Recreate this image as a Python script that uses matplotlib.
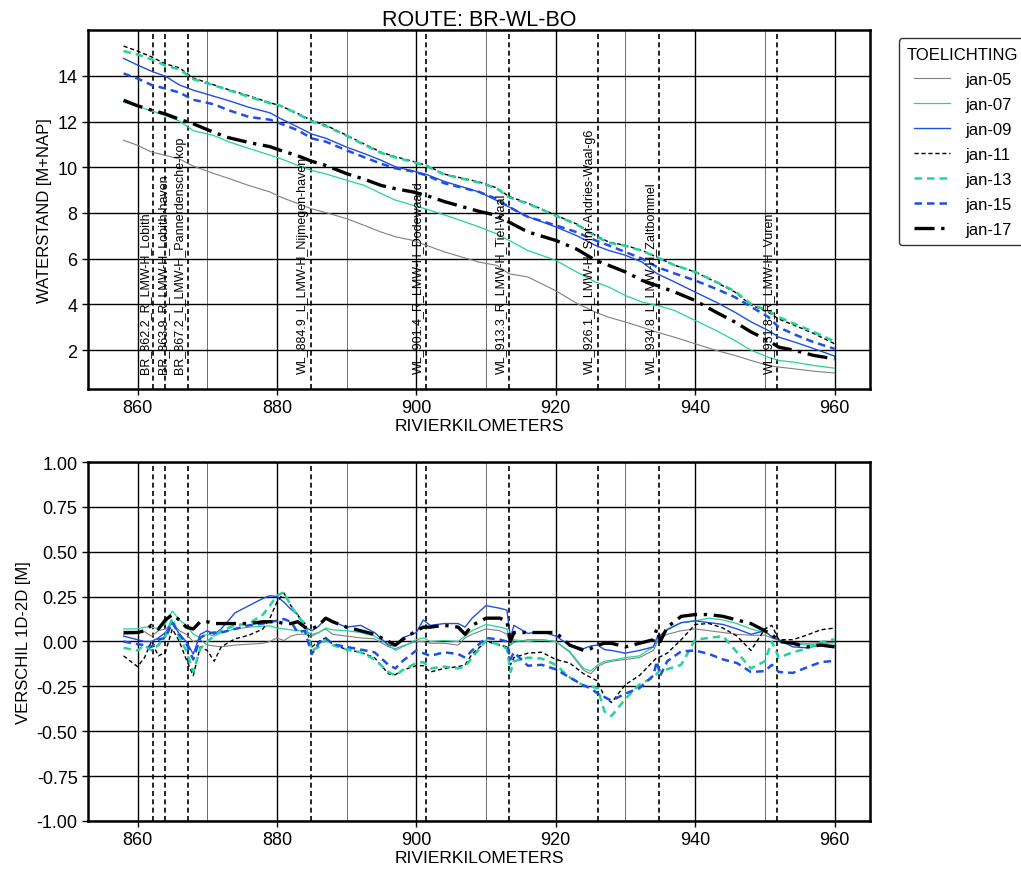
import matplotlib
matplotlib.use('Agg')
import matplotlib.pyplot as plt

plt.rcParams['font.family'] = ['Liberation Sans', 'DejaVu Sans']

# stations along the route (km) and their names
station_km = [862.2, 863.9, 867.2, 884.9, 901.4, 913.3, 926.1, 934.8, 951.8]
station_names = ['BR_862.2_R_LMW-H_Lobith', 'BR_863.9_R_LMW-H_Lobith-haven',
                 'BR_867.2_L_LMW-H_Pannerdensche-kop', 'WL_884.9_L_LMW-H_Nijmegen-haven',
                 'WL_901.4_R_LMW-H_Dodewaard', 'WL_913.3_R_LMW-H_Tiel-Waal',
                 'WL_926.1_L_LMW-H_Sint-Andries-Waal-g6', 'WL_934.8_L_LMW-H_Zaltbommel',
                 'WL_951.8_R_LMW-H_Vuren']

labels = ['jan-05', 'jan-07', 'jan-09', 'jan-11', 'jan-13', 'jan-15', 'jan-17']

# water levels (top panel)
km_top = [858, 860, 862, 864, 866, 868, 871, 873, 876, 879, 880.5, 883, 885, 887, 890, 892.5,
          895, 897, 899.5, 901.5, 904, 909, 911.5, 913.3, 916, 920, 923, 925.7, 927.6, 930,
          932.4, 934.5, 937, 940, 943, 945.7, 948, 950.5, 952, 954.3, 957, 960]
wl_jan05 = [11.18, 10.96, 10.67, 10.52, 10.36, 10.05, 9.72, 9.52, 9.2, 8.92, 8.7, 8.41, 8.18, 8.02,
            7.75, 7.46, 7.16, 6.96, 6.8, 6.58, 6.3, 5.85, 5.71, 5.34, 5.2, 4.6, 4.05, 3.66, 3.44,
            3.23, 3.0, 2.79, 2.57, 2.28, 1.99, 1.77, 1.55, 1.33, 1.26, 1.18, 1.08, 1.0]
wl_jan07 = [12.85, 12.66, 12.47, 12.26, 12.02, 11.6, 11.38, 11.12, 10.82, 10.53, 10.38, 10.08, 9.86,
            9.71, 9.43, 9.21, 8.84, 8.56, 8.34, 8.16, 7.92, 7.39, 7.09, 6.8, 6.36, 5.93, 5.42, 4.98,
            4.76, 4.39, 4.1, 3.96, 3.74, 3.3, 2.86, 2.42, 2.0, 1.69, 1.55, 1.47, 1.33, 1.21]
wl_jan09 = [14.76, 14.47, 14.2, 13.98, 13.6, 13.37, 13.1, 12.92, 12.62, 12.38, 12.13, 11.76, 11.45,
            11.27, 10.88, 10.6, 10.3, 10.02, 9.84, 9.68, 9.38, 8.92, 8.55, 8.26, 7.84, 7.39, 7.01,
            6.58, 6.36, 6.15, 5.85, 5.35, 4.99, 4.54, 4.1, 3.66, 3.24, 2.86, 2.57, 2.35, 2.07, 1.74]
wl_jan11 = [15.3, 15.08, 14.83, 14.52, 14.35, 13.9, 13.6, 13.4, 13.12, 12.82, 12.69, 12.35, 12.04,
            11.84, 11.4, 11.02, 10.65, 10.46, 10.26, 10.08, 9.7, 9.36, 9.1, 8.72, 8.43, 7.9, 7.52,
            7.02, 6.73, 6.58, 6.36, 6.07, 5.72, 5.42, 4.97, 4.54, 3.98, 3.66, 3.36, 3.08, 2.73, 2.28]
wl_jan13 = [15.08, 14.93, 14.72, 14.45, 14.28, 13.85, 13.58, 13.38, 13.08, 12.8, 12.69, 12.33, 12.0,
            11.8, 11.38, 10.98, 10.62, 10.43, 10.23, 10.05, 9.68, 9.33, 9.08, 8.68, 8.41, 7.88, 7.5,
            6.98, 6.7, 6.56, 6.34, 6.07, 5.72, 5.42, 4.99, 4.58, 4.02, 3.72, 3.45, 3.15, 2.8, 2.38]
wl_jan15 = [14.1, 13.88, 13.6, 13.44, 13.27, 12.95, 12.75, 12.5, 12.2, 12.08, 11.91, 11.62, 11.26,
            11.12, 10.74, 10.44, 10.15, 9.95, 9.82, 9.64, 9.3, 8.92, 8.62, 8.26, 7.83, 7.46, 7.16,
            6.8, 6.58, 6.29, 6.0, 5.64, 5.36, 5.05, 4.68, 4.32, 3.9, 3.45, 3.0, 2.68, 2.35, 2.06]
wl_jan17 = [12.93, 12.69, 12.5, 12.33, 12.1, 11.9, 11.52, 11.3, 11.08, 10.9, 10.74, 10.5, 10.26,
            10.08, 9.72, 9.48, 9.2, 9.06, 8.92, 8.76, 8.5, 8.07, 7.9, 7.6, 7.17, 6.8, 6.42, 5.93,
            5.71, 5.42, 5.05, 4.83, 4.55, 4.17, 3.66, 3.23, 2.8, 2.42, 2.13, 1.99, 1.77, 1.62]

# difference 1D-2D (bottom panel)
km_diff = [858, 860, 861, 862, 863, 864, 865, 866, 867, 868, 869, 870, 871, 872, 874, 876, 878, 879,
           880, 881, 882, 883, 884, 885, 886, 887, 888, 890, 892, 894, 896, 897, 898, 900, 901, 902,
           904, 906, 907, 908, 910, 912, 913, 913.5, 914, 916, 918, 920, 922, 924, 925, 926, 927,
           928, 930, 932, 934, 934.5, 935, 936, 938, 940, 942, 944, 946, 948, 950, 951, 952, 954,
           956, 958, 960]
d_jan05 = [0.04, 0.045, 0.055, 0.03, 0.06, 0.07, 0.10, 0.06, 0.04, 0.0, 0.01, -0.02, -0.025, -0.03,
           -0.02, -0.015, -0.01, 0.0, 0.02, 0.005, 0.03, 0.04, 0.04, 0.03, 0.05, 0.07, 0.04, 0.03,
           0.02, 0.015, -0.03, -0.04, -0.025, 0.0, 0.0, -0.01, -0.01, -0.02, 0.02, 0.04, 0.07, 0.06,
           0.04, -0.02, -0.005, 0.01, 0.01, 0.0, -0.06, -0.16, -0.18, -0.14, -0.12, -0.11, -0.1,
           -0.09, -0.05, -0.01, 0.02, 0.04, 0.06, 0.07, 0.06, 0.05, 0.04, 0.035, 0.035, 0.02, 0.005,
           -0.005, -0.01, -0.005, -0.005]
d_jan07 = [0.07, 0.07, 0.08, 0.08, 0.07, 0.10, 0.17, 0.12, 0.09, 0.04, 0.02, 0.04, 0.03, 0.05, 0.07,
           0.08, 0.085, 0.087, 0.075, 0.07, 0.065, 0.06, 0.06, 0.04, 0.05, 0.075, 0.065, 0.06, 0.05,
           0.03, -0.02, -0.05, -0.03, 0.01, 0.02, 0.0, 0.005, 0.0, 0.03, 0.06, 0.095, 0.08, 0.07,
           -0.02, 0.01, 0.0, 0.01, 0.0, -0.055, -0.15, -0.165, -0.13, -0.11, -0.105, -0.09, -0.08,
           -0.03, 0.0, 0.03, 0.07, 0.105, 0.115, 0.13, 0.12, 0.10, 0.07, 0.05, 0.03, 0.01, -0.01,
           -0.02, -0.01, -0.015]
d_jan09 = [0.03, 0.01, 0.0, 0.0, 0.02, 0.05, 0.11, 0.04, 0.0, -0.07, 0.04, 0.06, 0.04, 0.07, 0.16,
           0.2, 0.24, 0.255, 0.25, 0.22, 0.18, 0.15, 0.08, 0.06, 0.085, 0.13, 0.11, 0.08, 0.09, 0.05,
           -0.02, -0.025, 0.02, 0.05, 0.12, 0.09, 0.10, 0.10, 0.08, 0.13, 0.2, 0.185, 0.175, 0.02,
           0.09, 0.045, 0.055, 0.03, -0.02, -0.04, -0.025, -0.02, -0.045, -0.05, -0.065, -0.05,
           -0.03, 0.02, 0.035, 0.065, 0.105, 0.115, 0.105, 0.095, 0.07, 0.04, 0.06, 0.025, 0.01,
           -0.03, -0.035, -0.02, -0.025]
d_jan11 = [-0.08, -0.14, -0.09, 0.0, -0.08, -0.06, 0.07, 0.0, -0.1, -0.19, -0.03, -0.05, -0.11,
           -0.03, 0.015, 0.035, 0.07, 0.13, 0.22, 0.27, 0.2, 0.145, 0.1, -0.03, 0.0, 0.02, -0.015,
           -0.045, -0.06, -0.09, -0.18, -0.185, -0.16, -0.135, -0.135, -0.17, -0.15, -0.14, -0.13,
           -0.07, 0.0, -0.02, -0.03, -0.13, -0.09, -0.065, -0.06, -0.1, -0.12, -0.18, -0.2, -0.22,
           -0.31, -0.34, -0.24, -0.19, -0.11, -0.09, -0.085, -0.065, 0.01, 0.095, 0.1, 0.075, 0.03,
           -0.05, 0.07, 0.09, 0.01, 0.01, 0.035, 0.065, 0.075]
d_jan13 = [-0.035, -0.05, -0.02, -0.05, -0.02, 0.03, 0.13, 0.02, -0.05, -0.17, -0.04, 0.0, 0.03,
           0.06, 0.09, 0.10, 0.15, 0.2, 0.255, 0.275, 0.2, 0.14, 0.1, -0.05, -0.03, 0.01, -0.02,
           -0.045, -0.06, -0.1, -0.17, -0.19, -0.16, -0.12, -0.115, -0.15, -0.14, -0.15, -0.14,
           -0.09, 0.005, -0.02, -0.04, -0.17, -0.11, -0.09, -0.095, -0.13, -0.2, -0.245, -0.25,
           -0.26, -0.39, -0.415, -0.32, -0.24, -0.2, -0.18, -0.16, -0.155, -0.13, 0.01, 0.02, 0.03,
           -0.06, -0.15, -0.11, 0.0, -0.09, -0.06, -0.04, -0.005, 0.013]
d_jan15 = [0.0, -0.015, -0.02, -0.03, 0.01, 0.02, 0.105, 0.04, -0.01, -0.1, 0.02, 0.045, 0.05, 0.05,
           0.07, 0.09, 0.10, 0.11, 0.115, 0.125, 0.11, 0.05, 0.06, -0.07, -0.01, 0.02, -0.015, -0.03,
           -0.045, -0.06, -0.13, -0.15, -0.11, -0.05, -0.065, -0.08, -0.06, -0.07, -0.09, -0.05,
           0.02, 0.01, 0.0, -0.1, -0.06, -0.135, -0.13, -0.155, -0.2, -0.245, -0.26, -0.29, -0.31,
           -0.33, -0.29, -0.26, -0.19, -0.11, -0.19, -0.11, -0.055, -0.05, -0.07, -0.1, -0.12, -0.17,
           -0.165, -0.13, -0.17, -0.175, -0.145, -0.115, -0.108]
d_jan17 = [0.05, 0.05, 0.06, 0.09, 0.07, 0.12, 0.15, 0.12, 0.08, 0.07, 0.11, 0.11, 0.10, 0.10, 0.10,
           0.10, 0.11, 0.11, 0.11, 0.10, 0.10, 0.11, 0.08, 0.07, 0.09, 0.13, 0.11, 0.08, 0.06, 0.04,
           0.0, -0.02, 0.01, 0.06, 0.08, 0.08, 0.09, 0.08, 0.04, 0.09, 0.13, 0.13, 0.11, 0.0, 0.05,
           0.05, 0.05, 0.05, -0.02, -0.05, -0.04, -0.02, -0.01, -0.01, -0.03, -0.01, 0.01, 0.07, 0.0,
           0.08, 0.14, 0.15, 0.15, 0.14, 0.12, 0.10, 0.06, 0.04, 0.0, -0.01, -0.03, -0.02, -0.03]

wl_series = [wl_jan05, wl_jan07, wl_jan09, wl_jan11, wl_jan13, wl_jan15, wl_jan17]
diff_series = [d_jan05, d_jan07, d_jan09, d_jan11, d_jan13, d_jan15, d_jan17]

teal = '#22d39c'
blue = '#1f4fe6'
styles = [
    dict(color='#808080', ls='-', lw=0.8),
    dict(color=teal, ls='-', lw=0.9),
    dict(color=blue, ls='-', lw=1.0),
    dict(color='black', ls=(0, (3, 2)), lw=1.0),
    dict(color=teal, ls=(0, (3, 2)), lw=1.8),
    dict(color=blue, ls=(0, (3, 2)), lw=1.8),
    dict(color='black', ls=(0, (6, 2, 1, 2)), lw=2.4),
]

fig = plt.figure(figsize=(10.21, 8.7), dpi=100)
ax1 = fig.add_axes([0.0862, 0.5517, 0.766, 0.4126])
ax2 = fig.add_axes([0.0862, 0.0552, 0.766, 0.4126])

for ax in (ax1, ax2):
    ax.set_xlim(852.9, 965.1)
    ax.set_xticks(range(860, 961, 20))
    ax.set_xticks(range(870, 961, 20), minor=True)
    ax.grid(True, which='major', color='black', lw=1.0)
    ax.grid(True, which='minor', axis='x', color='#555555', lw=0.6)
    ax.set_axisbelow(True)
    for s in ax.spines.values():
        s.set_linewidth(1.8)
    ax.tick_params(axis='both', which='major', labelsize=13, length=4, width=1)
    ax.tick_params(axis='x', which='minor', length=0)
    ax.set_xlabel('RIVIERKILOMETERS', fontsize=12.5, labelpad=1)
    for km in station_km:
        ax.axvline(km, color='black', ls=(0, (3, 2)), lw=1.2, zorder=1)

for ys, lab, st in zip(wl_series, labels, styles):
    ax1.plot(km_top, ys, label=lab, zorder=3, **st)
for ys, st in zip(diff_series, styles):
    ax2.plot(km_diff, ys, zorder=3, **st)

# station names, written upwards just left of their line
label_shift = [0, 1.0, 0, 0, 0, 0, 0, 0, 0]
for km, name, dx in zip(station_km, station_names, label_shift):
    ax1.text(km - 0.3 + dx, 1.0, name, rotation=90, ha='right', va='bottom',
             fontsize=9, zorder=4)

ax1.set_ylim(0.3, 16.0)
ax1.set_yticks(range(2, 15, 2))
ax1.set_ylabel('WATERSTAND [M+NAP]', fontsize=12)
ax1.set_title('ROUTE: BR-WL-BO', fontsize=15.5, pad=4)

ax2.set_ylim(-1.0, 1.0)
ax2.set_yticks([-1.0, -0.75, -0.5, -0.25, 0.0, 0.25, 0.5, 0.75, 1.0])
ax2.set_yticklabels([f'{v:.2f}' for v in ax2.get_yticks()])
ax2.set_ylabel('VERSCHIL 1D-2D [M]', fontsize=12)

leg = ax1.legend(loc='upper left', bbox_to_anchor=(1.026, 1.0), title='TOELICHTING',
                 fontsize=12, title_fontsize=12, frameon=True, fancybox=True,
                 handlelength=2.2, handletextpad=0.9, labelspacing=0.6, borderpad=0.5)
leg.get_frame().set_edgecolor('black')
leg.get_frame().set_linewidth(1.0)

fig.savefig('out.png', dpi=100)
